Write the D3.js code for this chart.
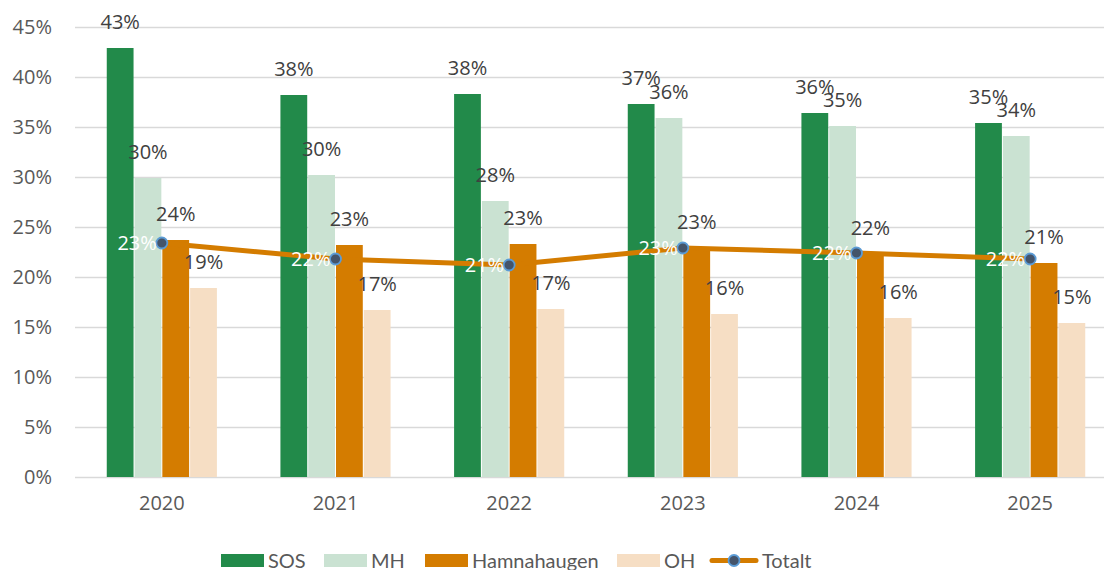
<!DOCTYPE html>
<meta charset="utf-8">
<style>
body { margin: 0; background: #fff; }
text { font-family: "Open Sans", sans-serif; }
.grid line { stroke: #d9d9d9; stroke-width: 1.5px; }
.grid path { display: none; }
.axis text { fill: #595959; font-size: 20px; }
.axis path, .axis line { display: none; }
</style>
<script src="https://d3js.org/d3.v7.min.js"></script>
<body>
<div id="chart"></div>
</body>
<script>

// data
var years = ["2020", "2021", "2022", "2023", "2024", "2025"];
var series = ["SOS", "MH", "Hamnahaugen", "OH"];
var sos = [42.9, 38.2, 38.3, 37.3, 36.4, 35.4];
var mh = [29.9, 30.2, 27.6, 35.9, 35.1, 34.1];
var hamna = [23.7, 23.2, 23.3, 22.9, 22.3, 21.4];
var oh = [18.9, 16.7, 16.8, 16.3, 15.9, 15.4];
var totalt = [23.4, 21.8, 21.2, 22.9, 22.4, 21.8];
var yTicks = [0, 5, 10, 15, 20, 25, 30, 35, 40, 45];

var colors = {SOS: "#228a4a", MH: "#cae2d2", Hamnahaugen: "#d47c00", OH: "#f6dec4"};
var lineColor = "#d47c00";

var values = {SOS: sos, MH: mh, Hamnahaugen: hamna, OH: oh};

var width = 1104, height = 570;
var svg = d3.select("#chart").append("svg")
    .attr("width", width)
    .attr("height", height);

// scales
var x0 = d3.scaleBand().domain(years).range([75, 1117])
    .paddingInner(0.36).paddingOuter(0.18);
var x1 = d3.scaleBand().domain(series).range([0, x0.bandwidth()]);
var y = d3.scaleLinear().domain([0, 45]).range([477, 27]);

// gridlines
svg.append("g")
    .attr("class", "grid")
    .attr("transform", "translate(75,0)")
    .call(d3.axisLeft(y).tickValues(yTicks).tickSize(-1042).tickFormat(""));

// y axis labels
svg.append("g")
    .attr("class", "axis")
    .attr("transform", "translate(75,0)")
    .call(d3.axisLeft(y).tickValues(yTicks).tickSize(0).tickPadding(23)
        .tickFormat(function(d) { return d + "%"; }));

// x axis labels
svg.append("g")
    .attr("class", "axis")
    .attr("transform", "translate(0,477)")
    .call(d3.axisBottom(x0).tickSize(0).tickPadding(19));

// bars
var groups = svg.append("g").selectAll("g")
    .data(years)
    .join("g")
    .attr("transform", function(d) { return "translate(" + x0(d) + ",0)"; });

groups.selectAll("rect")
    .data(function(d, i) { return series.map(function(s) { return {s: s, v: values[s][i]}; }); })
    .join("rect")
    .attr("x", function(d) { return x1(d.s) + 0.5; })
    .attr("width", x1.bandwidth() - 1)
    .attr("y", function(d) { return y(d.v); })
    .attr("height", function(d) { return y(0) - y(d.v); })
    .attr("fill", function(d) { return colors[d.s]; });

// total line
var line = d3.line()
    .x(function(d, i) { return x0(years[i]) + x0.bandwidth() / 2; })
    .y(function(d) { return y(d); });

svg.append("path")
    .datum(totalt)
    .attr("fill", "none")
    .attr("stroke", lineColor)
    .attr("stroke-width", 5)
    .attr("d", line);

svg.append("g").selectAll("circle")
    .data(totalt)
    .join("circle")
    .attr("cx", function(d, i) { return x0(years[i]) + x0.bandwidth() / 2; })
    .attr("cy", function(d) { return y(d); })
    .attr("r", 5.5)
    .attr("fill", "#44546a")
    .attr("stroke", "#5b9bd5")
    .attr("stroke-width", 1.8);

// bar labels
groups.selectAll("text.lbl")
    .data(function(d, i) { return series.map(function(s) { return {s: s, v: values[s][i]}; }); })
    .join("text")
    .attr("class", "lbl")
    .attr("x", function(d) { return x1(d.s) + x1.bandwidth() / 2; })
    .attr("y", function(d) { return y(d.v) - 19; })
    .attr("text-anchor", "middle")
    .attr("fill", "#404040")
    .attr("font-size", 20)
    .text(function(d) { return Math.round(d.v) + "%"; });

// total labels
svg.append("g").selectAll("text")
    .data(totalt)
    .join("text")
    .attr("x", function(d, i) { return x0(years[i]) + x0.bandwidth() / 2 - 5; })
    .attr("y", function(d) { return y(d); })
    .attr("dy", "0.35em")
    .attr("text-anchor", "end")
    .attr("fill", "#ffffff")
    .attr("font-size", 20)
    .text(function(d) { return Math.round(d) + "%"; });

// legend
var legendItems = [
  {name: "SOS", x: 221},
  {name: "MH", x: 324},
  {name: "Hamnahaugen", x: 425},
  {name: "OH", x: 617},
  {name: "Totalt", x: 712}
];
var legend = svg.append("g").selectAll("g")
    .data(legendItems)
    .join("g")
    .attr("transform", function(d) { return "translate(" + d.x + ",554)"; });

legend.filter(function(d) { return d.name !== "Totalt"; })
    .append("rect")
    .attr("width", 43)
    .attr("height", 13)
    .attr("fill", function(d) { return colors[d.name]; });

var tot = legend.filter(function(d) { return d.name === "Totalt"; });
tot.append("line")
    .attr("x1", 0).attr("x2", 44)
    .attr("y1", 6.5).attr("y2", 6.5)
    .attr("stroke", lineColor)
    .attr("stroke-width", 5)
    .attr("stroke-linecap", "round");
tot.append("circle")
    .attr("cx", 22).attr("cy", 6.5).attr("r", 5.5)
    .attr("fill", "#44546a")
    .attr("stroke", "#5b9bd5")
    .attr("stroke-width", 1.8);

legend.append("text")
    .attr("x", function(d) { return d.name === "Totalt" ? 50 : 47; })
    .attr("y", 14)
    .attr("fill", "#595959")
    .style("font-family", "Lato, sans-serif")
    .attr("font-size", 20)
    .text(function(d) { return d.name; });

</script>
